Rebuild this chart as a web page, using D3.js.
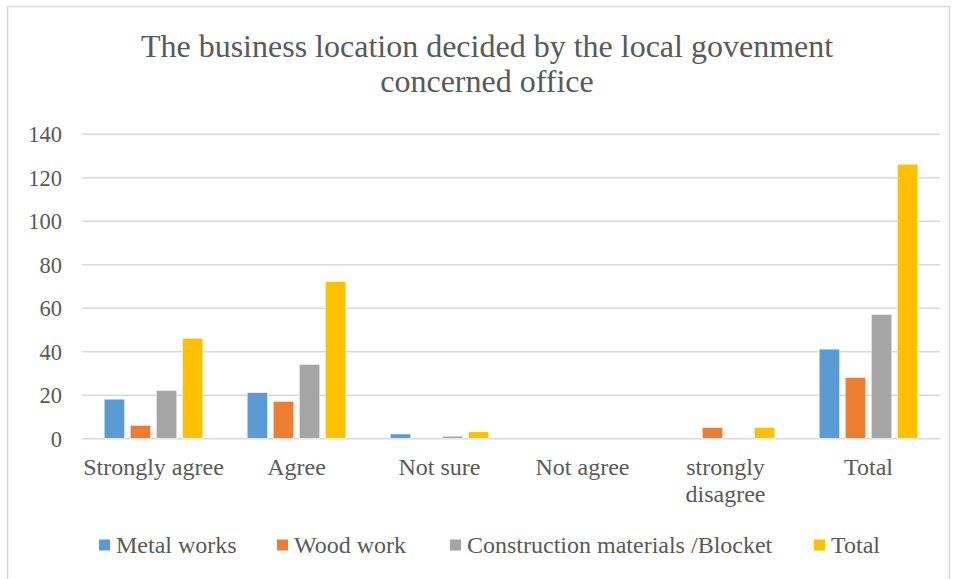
<!DOCTYPE html>
<html><head><meta charset="utf-8">
<script src="https://cdn.jsdelivr.net/npm/d3@7"></script>
<style>
html,body{margin:0;padding:0;background:#fff;}
svg text{font-family:"Liberation Serif","Times New Roman",serif !important;fill:#595959;}
</style></head>
<body><svg id="chart" width="957" height="579"></svg>
<script>
const categories = [["Strongly agree"],["Agree"],["Not sure"],["Not agree"],["strongly","disagree"],["Total"]];
const seriesNames = ["Metal works","Wood work","Construction materials /Blocket","Total"];
const metalWorks   = [18, 21, 2, 0, 0, 41];
const woodWork     = [6, 17, 0, 0, 5, 28];
const construction = [22, 34, 1, 0, 0, 57];
const totalSeries  = [46, 72, 3, 0, 5, 126];
const yTicks = [0,20,40,60,80,100,120,140];
const colors = ["#5B9BD5","#ED7D31","#A5A5A5","#FFC000"];
const title = ["The business location decided by the local govenment","concerned office"];

const seriesValues = [metalWorks, woodWork, construction, totalSeries];
const svg = d3.select("#chart");
svg.append("rect").attr("x",7.5).attr("y",6.5).attr("width",942).attr("height",600)
  .attr("fill","#fff").attr("stroke","#d9d9d9").attr("stroke-width",1.5);

const L=82, R=940, T=133.7, B=438.3;
const catKeys = categories.map(c=>c.join(" "));
const x0 = d3.scaleBand().domain(catKeys).range([L,R]).padding(0);
const x1 = d3.scaleBand().domain(seriesNames).range([0,x0.bandwidth()]).paddingInner(0.21).paddingOuter(0.85);
const y = d3.scaleLinear().domain([0,140]).range([B,T]);

const yAxis = d3.axisLeft(y).tickValues(yTicks).tickSize(-(R-L)).tickPadding(20).tickFormat(d3.format("d"));
const gy = svg.append("g").attr("transform",`translate(${L},0)`).call(yAxis);
gy.select(".domain").remove();
gy.selectAll(".tick line").attr("stroke","#d9d9d9").attr("stroke-width",1.5);
gy.selectAll(".tick text").attr("font-size",22.5).attr("fill","#595959").attr("dy","0.35em");

const groups = svg.append("g").selectAll("g").data(catKeys).join("g")
  .attr("transform",d=>`translate(${x0(d)},0)`);
groups.selectAll("rect").data((d,i)=>seriesNames.map((s,j)=>({s, j, v:seriesValues[j][i]})))
  .join("rect")
  .attr("x",d=>x1(d.s)).attr("width",x1.bandwidth())
  .attr("y",d=>y(d.v)).attr("height",d=>y(0)-y(d.v))
  .attr("fill",d=>colors[d.j]).attr("stroke","#fff").attr("stroke-width",0.6)
  .attr("display",d=>d.v>0?null:"none");

const xl = svg.append("g");
categories.forEach((lines,i)=>{
  const cx = x0(catKeys[i])+x0.bandwidth()/2;
  const t = xl.append("text").attr("x",cx).attr("y",475)
    .attr("text-anchor","middle").attr("font-size",24);
  lines.forEach((ln,k)=>t.append("tspan").attr("x",cx).attr("dy",k?27:0).text(ln));
});

const tt = svg.append("text").attr("x",487).attr("y",57).attr("text-anchor","middle").attr("font-size",32);
title.forEach((ln,k)=>tt.append("tspan").attr("x",487).attr("dy",k?35:0).text(ln));

const legX = [99, 277, 450, 814];
const lg = svg.append("g");
seriesNames.forEach((s,i)=>{
  lg.append("rect").attr("x",legX[i]).attr("y",539.5).attr("width",11).attr("height",11).attr("fill",colors[i]);
  lg.append("text").attr("x",legX[i]+17).attr("y",553).attr("font-size",24).text(s);
});
</script></body></html>
